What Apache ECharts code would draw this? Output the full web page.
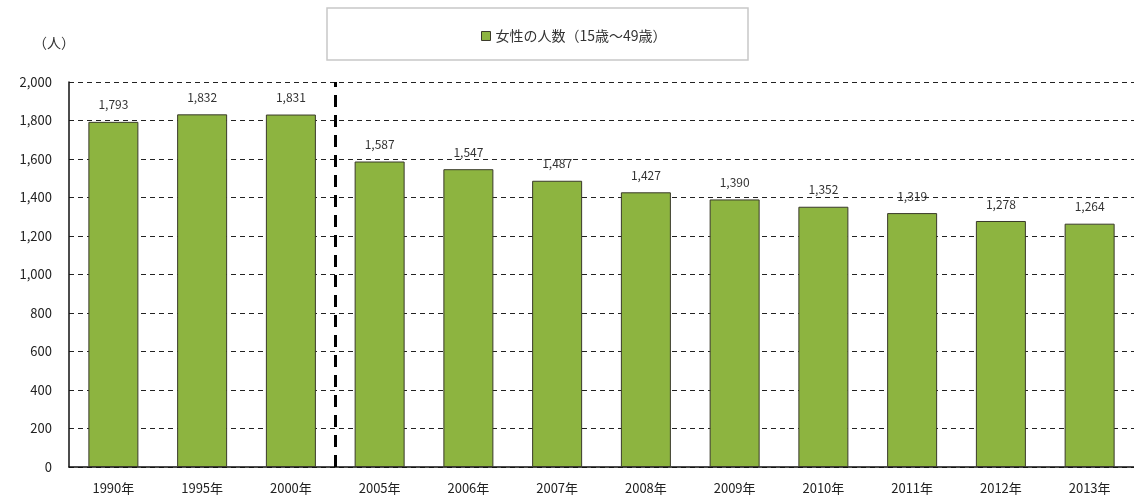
<!DOCTYPE html>
<html>
<head>
<meta charset="utf-8">
<script src="https://cdn.jsdelivr.net/npm/echarts@6/dist/echarts.min.js"></script>
<style>
html,body{margin:0;padding:0;background:#fff;}
#chart{width:1134px;height:499px;}
</style>
</head>
<body>
<div id="chart"></div>
<script>
// 女性の人数（15歳～49歳）の推移
const categories = ['1990年','1995年','2000年','2005年','2006年','2007年','2008年','2009年','2010年','2011年','2012年','2013年'];
const womenCounts = [1793, 1832, 1831, 1587, 1547, 1487, 1427, 1390, 1352, 1319, 1278, 1264];
const seriesName = '女性の人数（15歳～49歳）';
const unitLabel = '（人）';
// position of the dashed separator between 2000年 and 2005年 (category index units)
const separatorAt = 2.5;

const font = '"Noto Sans CJK JP", "Noto Sans", sans-serif';
const chart = echarts.init(document.getElementById('chart'));

chart.setOption({
  animation: false,
  textStyle: { fontFamily: font },
  grid: { left: 69, right: -3, top: 82, bottom: 32, containLabel: false },
  graphic: [
    {
      type: 'rect',
      shape: { x: 327, y: 8, width: 421, height: 52 },
      style: { fill: '#fff', stroke: '#c8c8c8', lineWidth: 1.5 },
      z: -1
    },
    {
      type: 'text',
      left: 33, top: 36,
      style: { text: unitLabel, fill: '#333', font: '14px ' + font }
    }
  ],
  legend: {
    data: [seriesName],
    top: 24, left: 476,
    icon: 'rect',
    itemWidth: 9, itemHeight: 9, itemGap: 4,
    itemStyle: { borderColor: '#3a3a2a', borderWidth: 1 },
    textStyle: { color: '#333', fontSize: 14, fontFamily: font }
  },
  xAxis: [
    {
      type: 'category',
      data: categories,
      axisLine: { lineStyle: { color: '#111', width: 1.5 } },
      axisTick: { show: false },
      axisLabel: { color: '#222', fontSize: 13, margin: 15, fontFamily: font },
      splitLine: { show: false }
    },
    {
      type: 'value', min: -0.5, max: categories.length - 0.5, show: false
    }
  ],
  yAxis: {
    type: 'value', min: 0, max: 2000, interval: 200,
    axisLine: { show: true, onZero: false, lineStyle: { color: '#111', width: 1.5 } },
    axisTick: { show: false },
    axisLabel: {
      color: '#222', fontSize: 13, margin: 17, align: 'right', fontFamily: font,
      formatter: v => v.toLocaleString('en-US')
    },
    splitLine: { lineStyle: { color: '#222', type: [5, 4], width: 1 } }
  },
  series: [
    {
      name: seriesName,
      type: 'bar',
      data: womenCounts,
      barWidth: 50,
      itemStyle: { color: '#8db440', borderColor: '#3a3a2a', borderWidth: 1 },
      label: {
        show: true, position: 'top', distance: 11, color: '#333', fontSize: 12, fontFamily: font,
        formatter: p => p.value.toLocaleString('en-US')
      },
      z: 3
    },
    {
      name: 'separator',
      type: 'line',
      xAxisIndex: 1,
      data: [],
      silent: true,
      markLine: {
        symbol: 'none',
        silent: true,
        label: { show: false },
        lineStyle: { color: '#000', type: [12, 8], width: 3 },
        data: [{ xAxis: separatorAt }]
      }
    }
  ]
});
</script>
</body>
</html>
